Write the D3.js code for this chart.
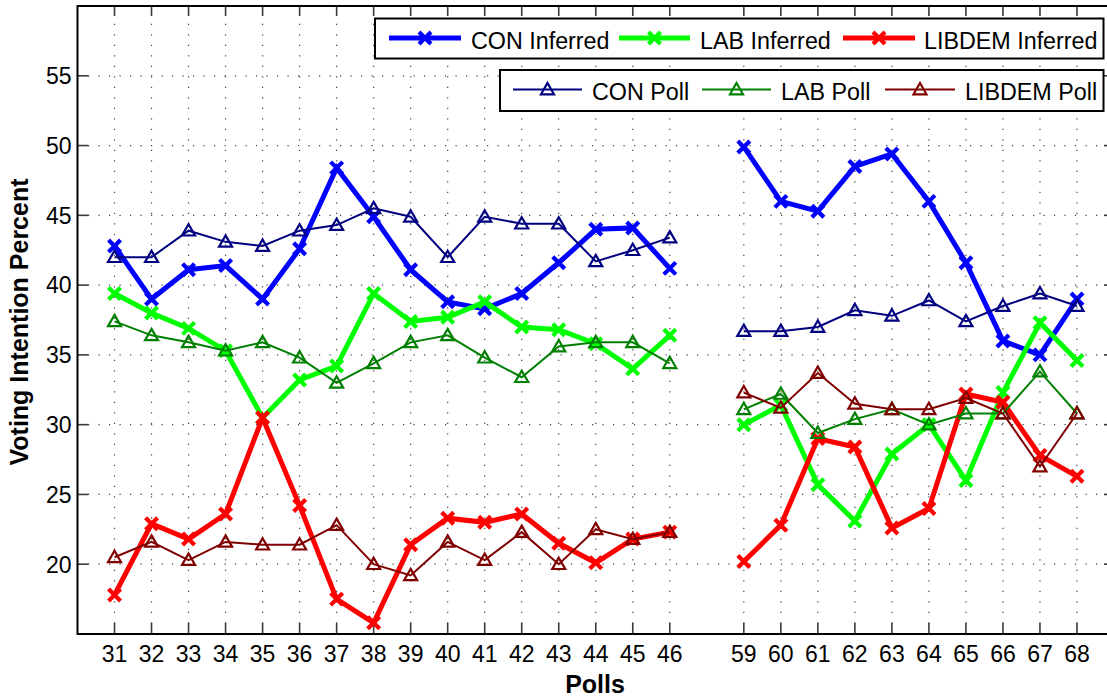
<!DOCTYPE html>
<html><head><meta charset="utf-8">
<script src="https://cdn.jsdelivr.net/npm/d3@7"></script>
<style>body{margin:0;background:#fff}svg{display:block}</style>
</head><body><svg id="c" width="1107" height="698"></svg>
<script>
// ---- data ----
const polls = ["31","32","33","34","35","36","37","38","39","40","41","42","43","44","45","46",
               "59","60","61","62","63","64","65","66","67","68"];
const conInferred = [42.8,39.0,41.1,41.4,39.0,42.6,48.4,44.9,41.1,38.8,38.3,39.4,41.6,44.0,44.1,41.2,
                     49.9,46.0,45.3,48.5,49.4,46.0,41.6,36.0,35.0,39.0];
const labInferred = [39.4,38.0,36.9,35.3,30.5,33.2,34.2,39.4,37.4,37.7,38.8,37.0,36.8,35.8,34.0,36.4,
                     30.0,31.4,25.7,23.1,27.9,30.0,26.0,32.3,37.3,34.6];
const libdemInferred = [17.8,22.9,21.8,23.6,30.5,24.2,17.5,15.8,21.4,23.3,23.0,23.6,21.5,20.1,21.8,22.3,
                        20.2,22.8,29.0,28.4,22.6,24.0,32.2,31.6,27.8,26.3];
const conPoll = [42.0,42.0,43.9,43.1,42.8,43.9,44.3,45.5,44.9,42.0,44.9,44.4,44.4,41.7,42.5,43.4,
                 36.7,36.7,37.0,38.2,37.8,38.9,37.4,38.5,39.4,38.5];
const labPoll = [37.4,36.4,35.9,35.3,35.9,34.8,33.0,34.4,35.9,36.4,34.8,33.4,35.6,35.9,35.9,34.4,
                 31.1,32.2,29.4,30.4,31.1,30.0,30.8,30.8,33.8,30.8];
const libdemPoll = [20.5,21.6,20.3,21.6,21.4,21.4,22.8,20.0,19.2,21.6,20.3,22.3,20.0,22.5,21.8,22.3,
                    32.3,31.2,33.7,31.5,31.1,31.1,31.9,30.8,27.0,30.8];
const yTicks = [20,25,30,35,40,45,50,55];
const seriesNames = ["CON Inferred","LAB Inferred","LIBDEM Inferred","CON Poll","LAB Poll","LIBDEM Poll"];

// ---- layout ----
const L = 77.5, R = 1114, T = 6, B = 634;
const FONT = "'Liberation Sans', Arial, Helvetica, sans-serif";

// x domain with an empty slot where poll numbers jump
const xDomain = [];
polls.forEach((p, i) => {
  if (i > 0 && +p - +polls[i-1] > 1) xDomain.push("gap");
  xDomain.push(p);
});
const x = d3.scalePoint().domain(xDomain).range([L, R]).padding(1);
const y = d3.scaleLinear().domain([15, 60]).range([B, T]);

const svg = d3.select("#c").style("font-family", FONT);

// grid
const grid = svg.append("g").attr("stroke", "#444").attr("stroke-width", 1.2)
  .attr("stroke-dasharray", "1.2,9.3");
grid.selectAll(".vg").data(polls).join("line")
  .attr("x1", d => x(d)).attr("x2", d => x(d)).attr("y1", B).attr("y2", T);
grid.selectAll(".hg").data(yTicks).join("line")
  .attr("x1", L).attr("x2", R).attr("y1", d => y(d)).attr("y2", d => y(d));

// ticks (inside, all four sides)
const tk = svg.append("g").attr("stroke", "#3a3a3a").attr("stroke-width", 1.6);
tk.selectAll(".bt").data(polls).join("line")
  .attr("x1", d => x(d)).attr("x2", d => x(d)).attr("y1", B).attr("y2", B - 11);
tk.selectAll(".tt").data(polls).join("line")
  .attr("x1", d => x(d)).attr("x2", d => x(d)).attr("y1", T).attr("y2", T + 10);
tk.selectAll(".lt").data(yTicks).join("line")
  .attr("x1", L).attr("x2", L + 11).attr("y1", d => y(d)).attr("y2", d => y(d));
tk.selectAll(".rt").data(yTicks).join("line")
  .attr("x1", R).attr("x2", R - 10).attr("y1", d => y(d)).attr("y2", d => y(d));

// axes box
svg.append("rect").attr("x", L).attr("y", T).attr("width", R - L).attr("height", B - T)
  .attr("fill", "none").attr("stroke", "#000").attr("stroke-width", 2);

// tick labels
svg.append("g").selectAll("text").data(polls).join("text")
  .attr("x", d => x(d)).attr("y", B + 28).attr("text-anchor", "middle")
  .attr("font-size", 23).attr("fill", "#000").text(d => d);
svg.append("g").selectAll("text").data(yTicks).join("text")
  .attr("x", L - 6).attr("y", d => y(d)).attr("dy", "0.36em").attr("text-anchor", "end")
  .attr("font-size", 23).attr("fill", "#000").text(d => d);

// axis titles
svg.append("text").attr("x", 595).attr("y", 693).attr("text-anchor", "middle")
  .attr("font-size", 25).attr("font-weight", "bold").text("Polls");
svg.append("text").attr("transform", "translate(28,322) rotate(-90)").attr("text-anchor", "middle")
  .attr("font-size", 25).attr("font-weight", "bold").text("Voting Intention Percent");

// series
const series = [
  {name: seriesNames[0], vals: conInferred, color: "#0000ff", w: 5, marker: "x"},
  {name: seriesNames[1], vals: labInferred, color: "#00ff00", w: 5, marker: "x"},
  {name: seriesNames[2], vals: libdemInferred, color: "#ff0000", w: 5, marker: "x"},
  {name: seriesNames[3], vals: conPoll, color: "#000080", w: 2, marker: "tri"},
  {name: seriesNames[4], vals: labPoll, color: "#008000", w: 2, marker: "tri"},
  {name: seriesNames[5], vals: libdemPoll, color: "#800000", w: 2, marker: "tri"}
];

const xPath = "M-6,-6L6,6M-6,6L6,-6";
const triPath = "M0,-6.5L6.5,4.8L-6.5,4.8Z";

const line = d3.line().defined(d => d.v != null).x(d => x(d.p)).y(d => y(d.v));
series.forEach(s => {
  const pts = xDomain.map(p => {
    const i = polls.indexOf(p);
    return {p, v: i < 0 ? null : s.vals[i]};
  });
  const g = svg.append("g");
  g.append("path").attr("d", line(pts)).attr("fill", "none").attr("stroke", s.color)
    .attr("stroke-width", s.w).attr("stroke-linejoin", "miter");
  g.selectAll("path.m").data(pts.filter(d => d.v != null)).join("path").attr("class", "m")
    .attr("transform", d => `translate(${x(d.p)},${y(d.v)})`)
    .attr("d", s.marker === "x" ? xPath : triPath)
    .attr("fill", "none").attr("stroke", s.color)
    .attr("stroke-width", s.marker === "x" ? 4.2 : 2.2);
});

// legends
function legend(items, box, lines, texts, lineY, textY) {
  const g = svg.append("g");
  g.append("rect").attr("x", box[0]).attr("y", box[1]).attr("width", box[2] - box[0])
    .attr("height", box[3] - box[1]).attr("fill", "#fff").attr("stroke", "#000").attr("stroke-width", 2);
  items.forEach((s, i) => {
    const [a, b] = lines[i];
    g.append("line").attr("x1", a).attr("x2", b).attr("y1", lineY).attr("y2", lineY)
      .attr("stroke", s.color).attr("stroke-width", s.w);
    g.append("path").attr("transform", `translate(${(a + b) / 2},${lineY})`)
      .attr("d", s.marker === "x" ? xPath : triPath).attr("fill", "none")
      .attr("stroke", s.color).attr("stroke-width", s.marker === "x" ? 4.2 : 2.2);
    g.append("text").attr("x", texts[i]).attr("y", textY).attr("font-size", 23.3)
      .attr("fill", "#000").text(s.name);
  });
}
legend(series.slice(0, 3), [375, 18.5, 1103.5, 58.5],
  [[389, 461], [619, 690], [843, 915]], [471, 700, 924], 38, 49);
legend(series.slice(3), [500, 70, 1103.5, 111],
  [[513, 582], [702, 771], [885, 955]], [592, 781, 965], 89.5, 100);
</script>
</body></html>
